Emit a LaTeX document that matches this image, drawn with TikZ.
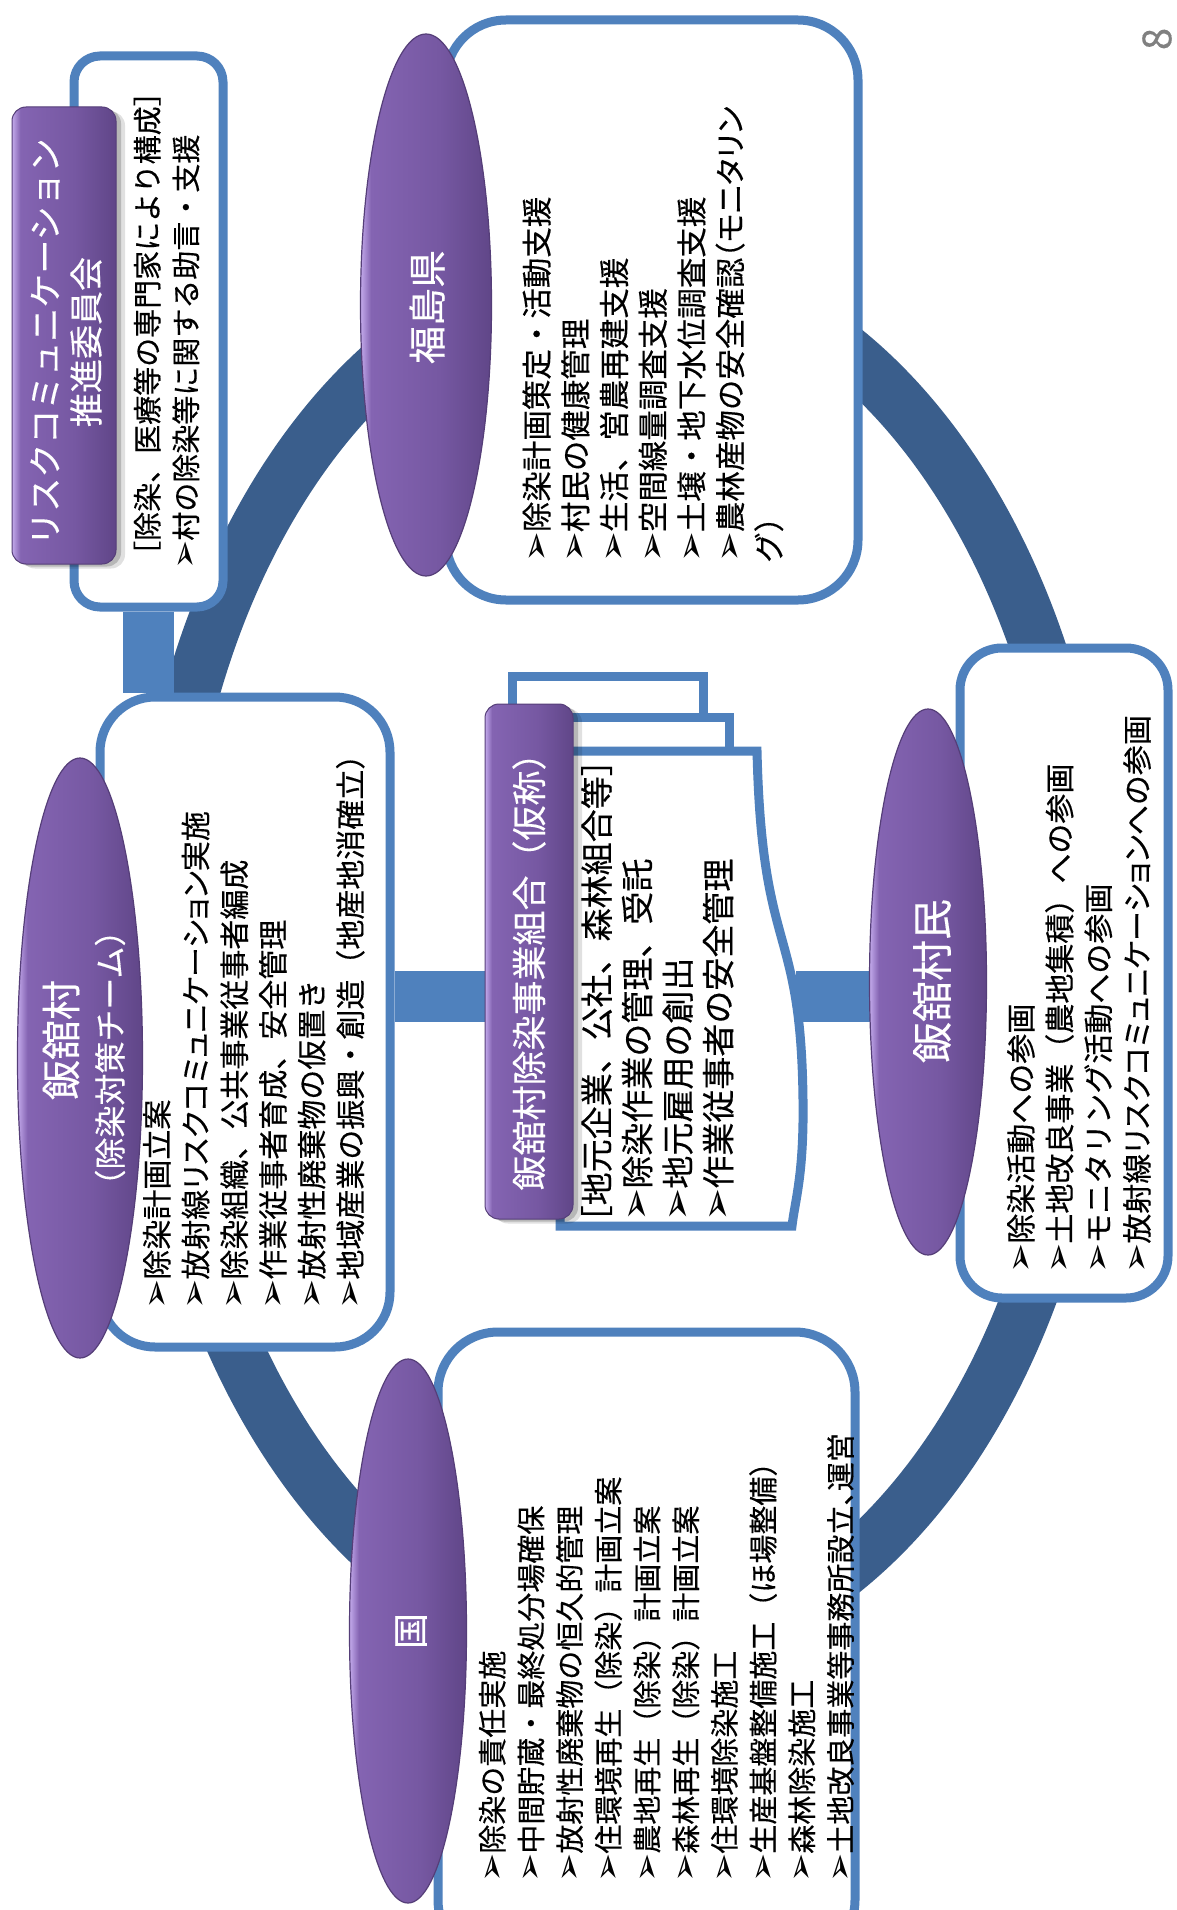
\documentclass[tikz,border=0pt]{standalone}
\usepackage{fontspec}
\setmainfont{Noto Sans CJK JP}[FakeBold=0.3]
\newfontfamily\pk{Noto Sans CJK JP}[RawFeature=+palt, FakeBold=0.3]
\newfontfamily\hk{Noto Sans CJK JP}[RawFeature=+halt, FakeBold=0.3]
\newfontfamily\dejavu{DejaVu Sans}
\usetikzlibrary{shapes.geometric}
\definecolor{ringc}{RGB}{58,94,140}
\definecolor{boxc}{RGB}{79,129,189}
\definecolor{plight}{RGB}{195,170,235}
\definecolor{pmid}{RGB}{132,100,178}
\definecolor{pmidb}{RGB}{118,88,162}
\definecolor{pdark}{RGB}{96,70,136}
\definecolor{pedge}{RGB}{85,62,120}
\definecolor{pgnum}{RGB}{128,128,128}
\pgfdeclarelayer{back}
\pgfdeclarelayer{bg}
\pgfsetlayers{back,bg,main}
\pgfdeclarehorizontalshading{purph}{100bp}{color(0bp)=(plight); color(25bp)=(plight); color(29bp)=(pmid); color(55bp)=(pmidb); color(75bp)=(pdark); color(100bp)=(pdark)}
\newcommand\bul{\scalebox{1.2}{\dejavu ➢}}
\newcommand\stx{\rule[-11.7pt]{0pt}{38.7pt}}
\newcommand\kk[1]{{\pk #1}}
\newcommand\hh[1]{{\hk #1}}
\begin{document}
\begin{tikzpicture}[x=1pt,y=-1pt,
  wbox/.style={rectangle, draw=boxc, line width=9pt, fill=white, inner sep=0pt},
  bar/.style={draw=boxc, line width=51pt},
  ringline/.style={draw=ringc, line width=55pt},
  pell/.style={ellipse, shade, shading=purph, draw=pedge, line width=1.2pt, inner sep=0pt},
  prect/.style={rectangle, rounded corners=14pt, shade, shading=purph, draw=pedge, line width=1pt, inner sep=0pt},
  shd/.style={rectangle, rounded corners=14pt, fill=black, inner sep=0pt},
  wtxt/.style={text=white, rotate=90, inner sep=0pt},
  lst/.style={rotate=90, anchor=north west, inner sep=0pt, align=left, font={\fontsize{#1}{38.7pt}\selectfont}},
  sheet/.style={draw=boxc, line width=9pt, fill=white, line join=miter}
]
\useasboundingbox (0,0) rectangle (1176,1910);
\begin{pgfonlayer}{back}
\fill[white] (0,0) rectangle (1176,1910);
\end{pgfonlayer}

% white boxes
\node[wbox, minimum width=149pt, minimum height=551pt, rounded corners=26pt] (rcB) at (148.5,331.5) {};
\node[wbox, minimum width=412pt, minimum height=580pt, rounded corners=60pt] (fkB) at (652,310) {};
\node[wbox, minimum width=290pt, minimum height=650pt, rounded corners=55pt] (muB) at (245,1022) {};
\node[wbox, minimum width=208pt, minimum height=650pt, rounded corners=42pt] (smB) at (1064,973) {};
\node[wbox, minimum width=417pt, minimum height=628pt, rounded corners=60pt] (kuB) at (646.5,1646) {};

% document stack
\filldraw[sheet] (512,676) rectangle (703,770);
\filldraw[sheet] (545,717) rectangle (729,800);
\filldraw[sheet] (560,751) -- (757,751) .. controls (762,960) and (801,920) .. (803,1100)
   .. controls (804,1175) and (795,1200) .. (792,1226) -- (560,1226) -- cycle;
\coordinate (docR) at (796,996);

% purple title rectangles with shadow
\node[shd, opacity=0.12, minimum width=104pt, minimum height=457pt] (rcS2) at (73,340) {};
\node[shd, opacity=0.18, minimum width=104pt, minimum height=457pt] (rcS1) at (69,338) {};
\node[prect, minimum width=104pt, minimum height=457pt] (rcR) at (64,335.5) {};
\node[shd, opacity=0.12, minimum width=88pt, minimum height=515pt] (kmS2) at (538,966) {};
\node[shd, opacity=0.18, minimum width=88pt, minimum height=515pt] (kmS1) at (534,964) {};
\node[prect, minimum width=88pt, minimum height=515pt] (kmR) at (529,961.5) {};

% purple ellipses
\node[pell, minimum width=131pt, minimum height=542pt] (fkE) at (426,305) {};
\node[pell, minimum width=125pt, minimum height=600pt] (muE) at (80,1058) {};
\node[pell, minimum width=117pt, minimum height=546pt] (smE) at (928,982) {};
\node[pell, minimum width=117pt, minimum height=544pt] (kuE) at (408,1631) {};

% titles
\node[wtxt, font={\fontsize{34pt}{40pt}\selectfont}] (rcT1) at (45,342) {リスクコミュニケーション};
\node[wtxt, font={\fontsize{34pt}{40pt}\selectfont}] (rcT2) at (86,342) {推進委員会};
\node[wtxt, font={\fontsize{38pt}{44pt}\selectfont}] (fkT) at (427,307) {福島県};
\node[wtxt, font={\fontsize{40pt}{46pt}\selectfont}] (muT1) at (61,1040) {飯舘村};
\node[wtxt, font={\fontsize{32pt}{38pt}\selectfont}] (muT2) at (110,1058) {（除染対策チーム）};
\node[wtxt, font={\fontsize{35pt}{40pt}\selectfont}] (kmT) at (529,963) {飯舘村除染事業組合（仮称）};
\node[wtxt, font={\fontsize{41pt}{46pt}\selectfont}] (smT) at (932,981) {飯舘村民};
\node[wtxt, font={\fontsize{36pt}{42pt}\selectfont}] (kuT) at (411,1631) {国};

% lists
\node[lst=29pt] (rcL) at (131,570) {\stx［除染、医療等の専門家により構成］\\
\stx\bul 村の除染等に関する助言・支援};
\node[lst=30.5pt] (fkL) at (521,563) {\stx\bul 除染計画策定・活動支援\\
\stx\bul 村民の健康管理\\
\stx\bul 生活、営農再建支援\\
\stx\bul 空間線量調査支援\\
\stx\bul 土壌・地下水位調査支援\\
\stx\bul 農林産物の安全確認\hh{（}\kk{モニタリン}\\
\stx グ）};
\node[lst=30pt] (muL) at (141,1310) {\stx\bul 除染計画立案\\
\stx\bul 放射線\kk{リスクコミュニケーション}実施\\
\stx\bul 除染組織、公共事業従事者編成\\
\stx\bul 作業従事者育成、安全管理\\
\stx\bul 放射性廃棄物の仮置き\\
\stx\bul 地域産業の振興・創造（地産地消確立）};
\node[lst=33pt] (kmL) at (581,1222) {\stx\hh{［}地元企業、公社、森林組合等\hh{］}\\
\stx\bul 除染作業の管理、受託\\
\stx\bul 地元雇用の創出\\
\stx\bul 作業従事者の安全管理};
\node[lst=30pt] (smL) at (1005,1274) {\stx\bul 除染活動への参画\\
\stx\bul 土地改良事業（農地集積）への参画\\
\stx\bul モニタリング活動への参画\\
\stx\bul 放射線\kk{リスクコミュニケーション}への参画};
\node[lst=29pt] (kuL) at (476,1883) {\stx\bul 除染の責任実施\\
\stx\bul 中間貯蔵・最終処分場確保\\
\stx\bul 放射性廃棄物の恒久的管理\\
\stx\bul 住環境再生（除染）計画立案\\
\stx\bul 農地再生（除染）計画立案\\
\stx\bul 森林再生（除染）計画立案\\
\stx\bul 住環境除染施工\\
\stx\bul 生産基盤整備施工（ほ場整備）\\
\stx\bul 森林除染施工\\
\stx\bul 土地改良事業等事務所設立\hh{、}運営};

% page number
\node[rotate=90, text=pgnum, inner sep=0pt, font={\fontsize{40pt}{40pt}\selectfont}] (pg) at (1157,39) {8};

% ring and connectors behind
\begin{pgfonlayer}{bg}
\draw[ringline] (622,960) ellipse [x radius=466, y radius=693];
\coordinate (hy) at (0,996);
\draw[bar] (rcB.south) -- (rcB.south |- muB.north);
\draw[bar] (muB.east |- hy) -- (kmR.west |- hy);
\draw[bar] (docR) -- (smB.west |- hy);
\end{pgfonlayer}
\end{tikzpicture}
\end{document}
